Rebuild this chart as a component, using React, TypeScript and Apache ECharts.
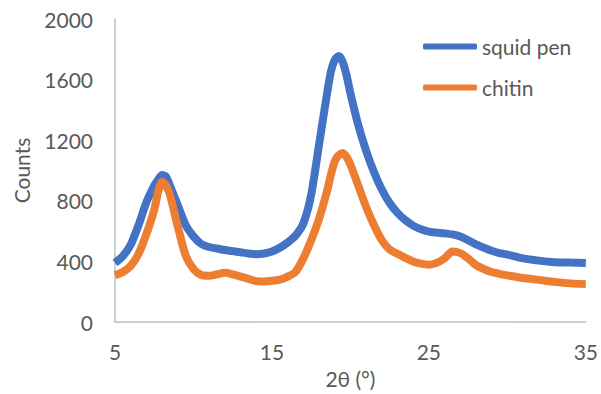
import React, { useEffect, useRef } from "react";
import * as echarts from "echarts";

const twoTheta = [
  5, 5.5, 6, 6.5, 7, 7.5, 7.75, 8, 8.25, 8.5, 9, 9.5, 10, 10.5, 11, 11.5, 12, 12.5, 13, 13.5,
  14, 14.5, 15, 15.5, 16, 16.5, 17, 17.5, 18, 18.5, 18.75, 19, 19.25, 19.5, 19.75, 20, 20.5, 21, 21.5, 22,
  22.5, 23, 23.5, 24, 24.5, 25, 25.5, 26, 26.5, 27, 27.5, 28, 28.5, 29, 29.5, 30, 31, 32, 33, 34, 35,
];

const squidPen = [
  390, 435, 510, 640, 790, 900, 940, 970, 960, 900, 770, 640, 565, 515, 495, 485, 475, 468, 460, 452,
  448, 452, 465, 490, 525, 570, 650, 840, 1170, 1500, 1650, 1730, 1755, 1720, 1630, 1510, 1300, 1130, 990, 875,
  785, 720, 672, 636, 612, 596, 590, 585, 578, 565, 540, 512, 490, 470, 455, 445, 420, 405, 395, 392, 390,
];

const chitin = [
  308, 330, 370, 450, 580, 740, 860, 925, 900, 840, 630, 440, 350, 310, 305, 315, 325, 315, 300, 285,
  270, 268, 272, 280, 300, 330, 420, 540, 680, 860, 968, 1060, 1100, 1115, 1090, 1040, 900, 760, 640, 540,
  478, 450, 423, 400, 385, 378, 390, 420, 465, 455, 420, 375, 350, 330, 318, 308, 290, 278, 265, 255, 250,
];

const seriesNames = ["squid pen", "chitin"];
const xTicks = [5, 15, 25, 35];
const yTicks = [0, 400, 800, 1200, 1600, 2000];

export default function App() {
  const ref = useRef<HTMLDivElement>(null);
  useEffect(() => {
    if (!ref.current) return;
    const chart = echarts.init(ref.current, undefined, { renderer: "svg" });
    const font = "Lato, 'Noto Sans', sans-serif";
    const textColor = "#595959";
    chart.setOption({
      animation: false,
      grid: { left: 115, right: 13, top: 19, bottom: 63 },
      legend: {
        orient: "vertical",
        left: 418,
        top: 31,
        itemWidth: 54,
        itemHeight: 6,
        itemGap: 20,
        icon: "roundRect",
        textStyle: { fontFamily: font, fontSize: 21, color: textColor, padding: [0, 0, 0, 0] },
        data: seriesNames,
      },
      xAxis: {
        type: "value",
        min: xTicks[0],
        max: xTicks[xTicks.length - 1],
        interval: 10,
        name: "2θ (°)",
        nameLocation: "middle",
        nameGap: 46,
        nameTextStyle: { fontFamily: font, fontSize: 21, color: textColor },
        axisLine: { show: true, lineStyle: { color: "#bfbfbf", width: 1.5 } },
        axisTick: { show: false },
        splitLine: { show: false },
        axisLabel: { fontFamily: font, fontSize: 21, color: textColor, margin: 19, formatter: (v: number) => String(v) },
      },
      yAxis: {
        type: "value",
        min: yTicks[0],
        max: yTicks[yTicks.length - 1],
        interval: 400,
        name: "Counts",
        nameLocation: "middle",
        nameGap: 83,
        nameTextStyle: { fontFamily: font, fontSize: 21, color: textColor },
        axisLine: { show: true, lineStyle: { color: "#bfbfbf", width: 1.5 } },
        axisTick: { show: false },
        splitLine: { show: false },
        axisLabel: { fontFamily: font, fontSize: 21, color: textColor, margin: 22, formatter: (v: number) => String(v) },
      },
      series: [
        {
          name: seriesNames[0],
          type: "line",
          data: twoTheta.map((x, i) => [x, squidPen[i]]),
          showSymbol: false,
          smooth: 0.25,
          lineStyle: { color: "#4472C4", width: 8 },
          itemStyle: { color: "#4472C4" },
        },
        {
          name: seriesNames[1],
          type: "line",
          data: twoTheta.map((x, i) => [x, chitin[i]]),
          showSymbol: false,
          smooth: 0.25,
          lineStyle: { color: "#ED7D31", width: 8 },
          itemStyle: { color: "#ED7D31" },
        },
      ],
    });
    return () => chart.dispose();
  }, []);
  return <div ref={ref} style={{ width: 601, height: 394, position: "absolute", left: 0, top: 0 }} />;
}
